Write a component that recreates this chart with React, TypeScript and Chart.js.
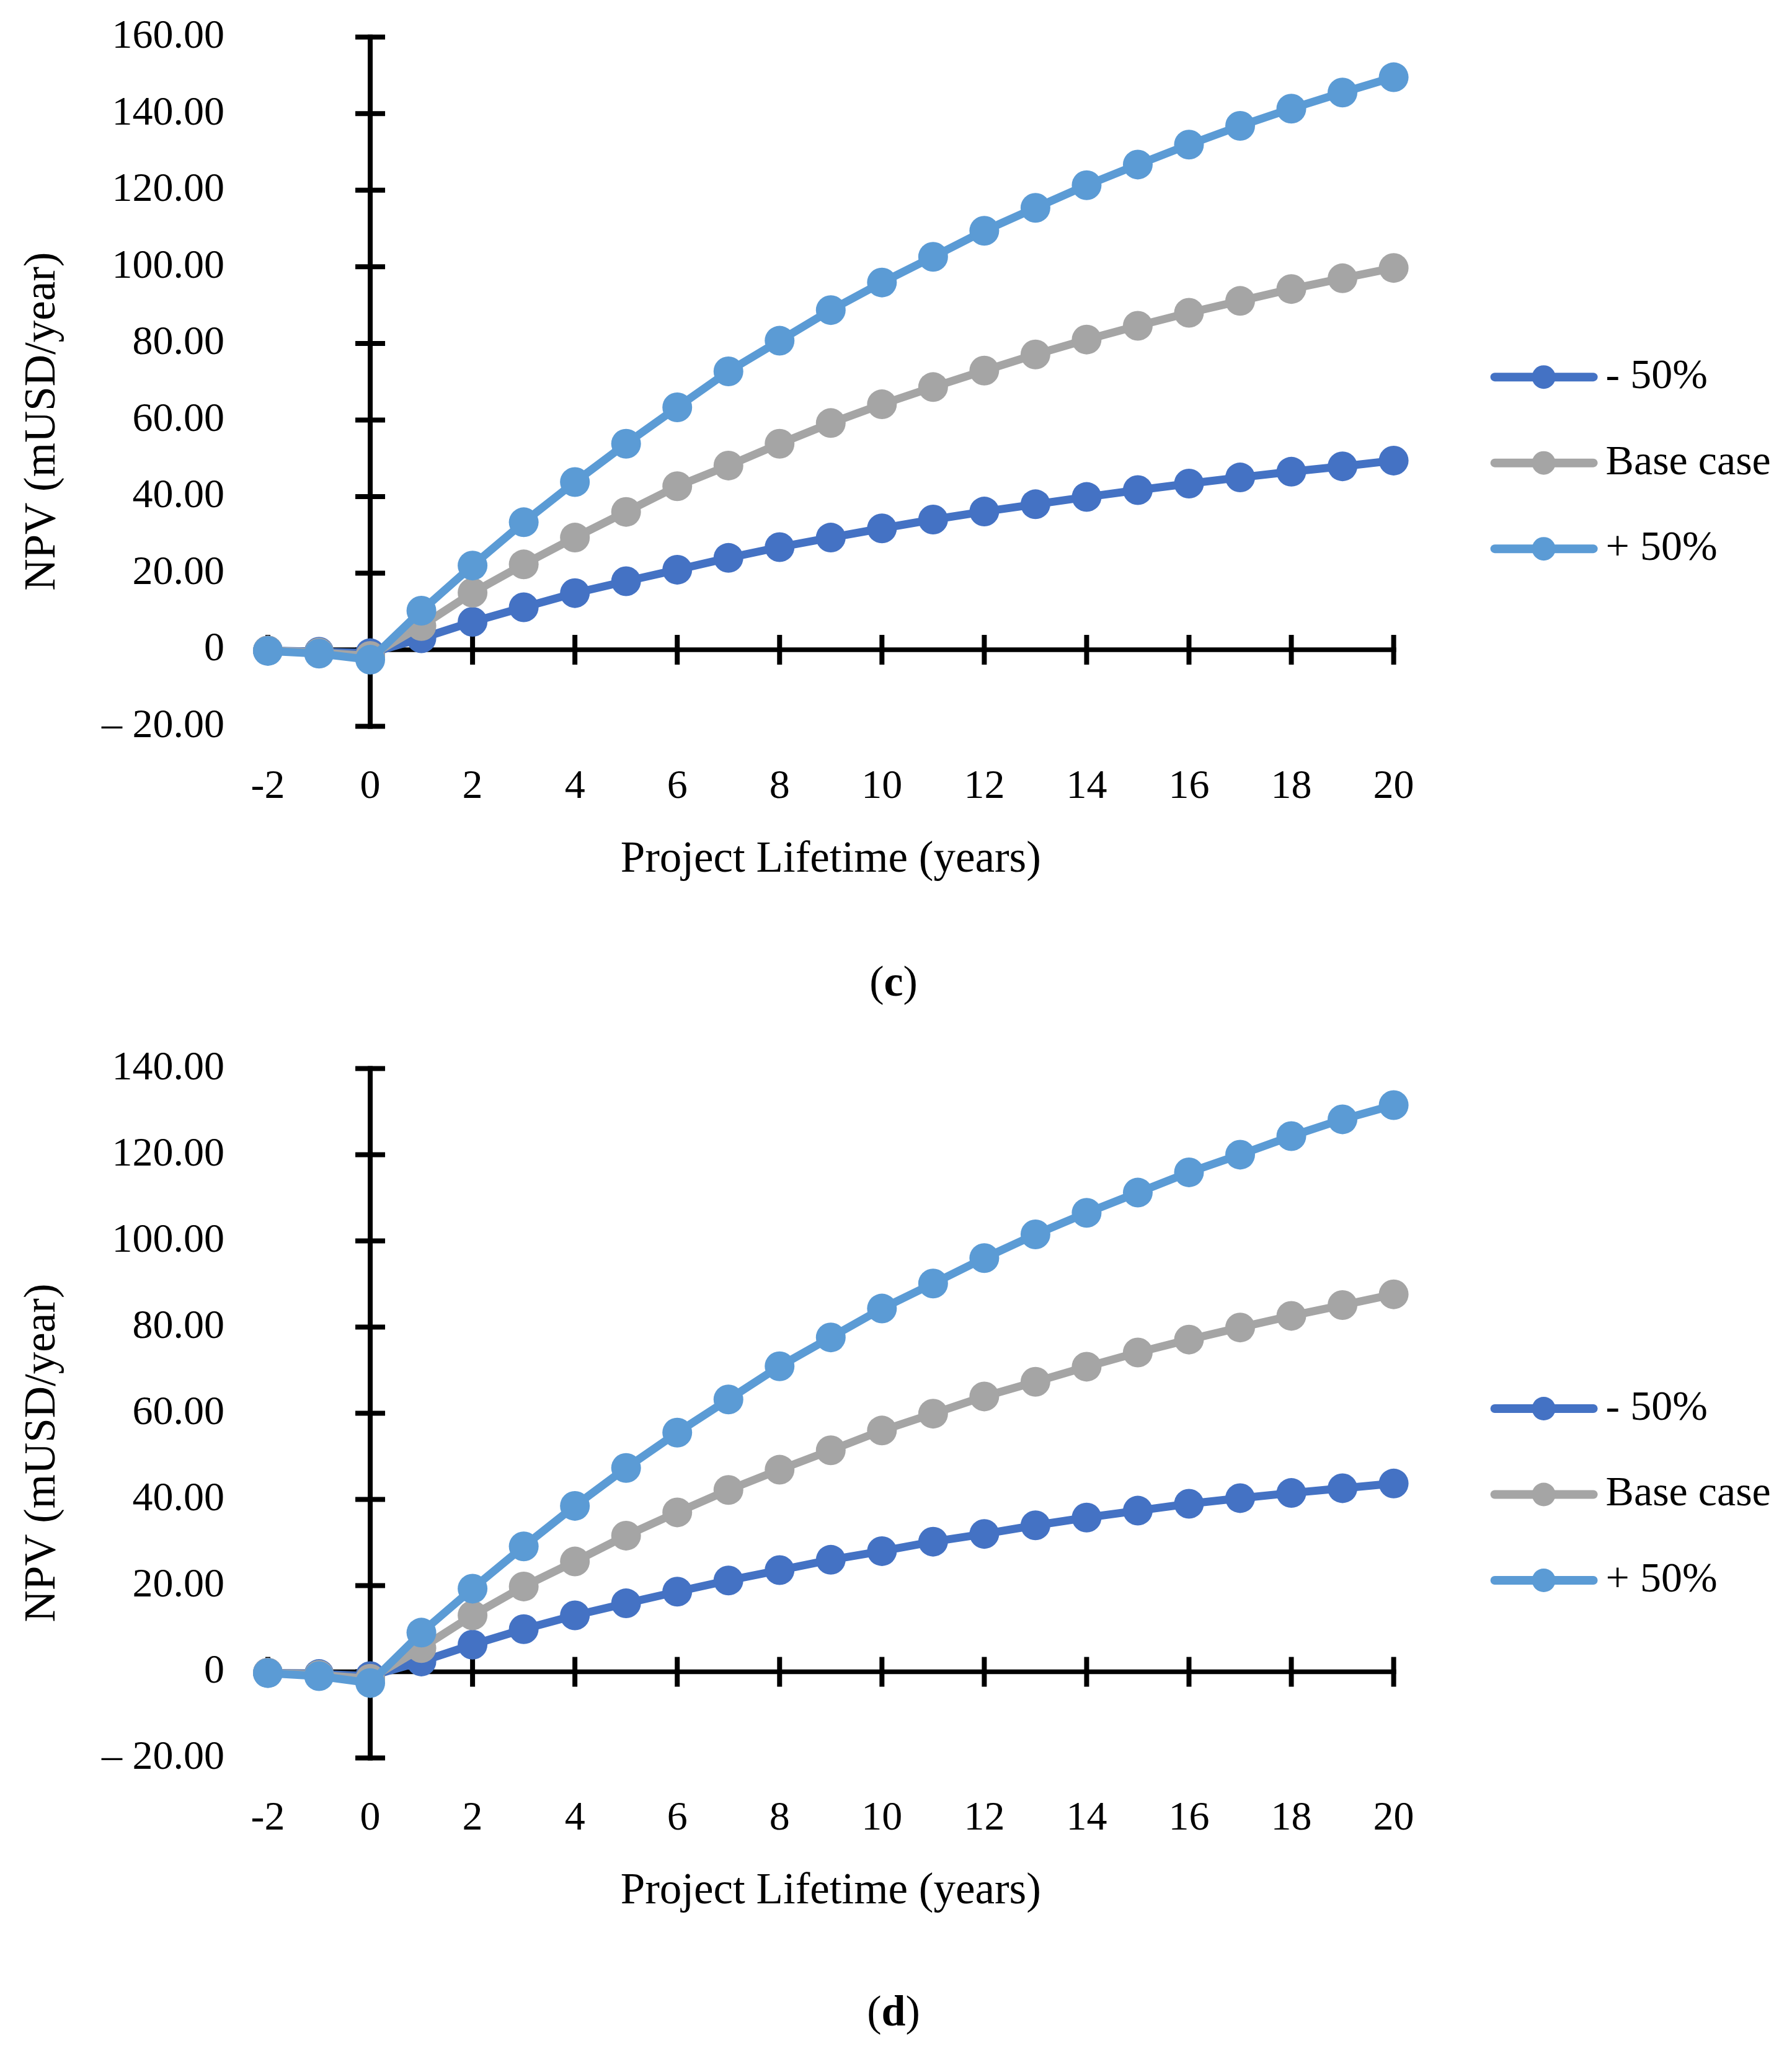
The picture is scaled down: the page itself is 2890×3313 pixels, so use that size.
import React, { useEffect, useRef } from 'react';
import { Chart, registerables } from 'chart.js';

Chart.register(...registerables);

// ---------- data ----------
const years = [-2, -1, 0, 1, 2, 3, 4, 5, 6, 7, 8, 9, 10, 11, 12, 13, 14, 15, 16, 17, 18, 19, 20];
const xTickLabels = ['-2', '0', '2', '4', '6', '8', '10', '12', '14', '16', '18', '20'];
const yTickLabelsC = ['– 20.00', '0', '20.00', '40.00', '60.00', '80.00', '100.00', '120.00', '140.00', '160.00'];
const yTickLabelsD = ['– 20.00', '0', '20.00', '40.00', '60.00', '80.00', '100.00', '120.00', '140.00'];

const seriesNames = ['- 50%', 'Base case', '+ 50%'];
const seriesColors = ['#4472C4', '#A5A5A5', '#5B9BD5'];

const minus50C = [-0.2, -0.5, -0.9, 3.0, 7.3, 11.1, 14.8, 17.9, 20.9, 24.0, 26.8, 29.3, 31.7, 34.0, 36.1, 38.0, 39.9, 41.7, 43.4, 45.0, 46.5, 47.9, 49.4];
const baseC = [-0.2, -0.7, -1.6, 6.2, 14.9, 22.3, 29.3, 36.0, 42.7, 48.1, 53.8, 59.2, 64.1, 68.6, 72.9, 77.1, 81.0, 84.6, 88.0, 91.1, 94.2, 97.0, 99.7];
const plus50C = [-0.3, -1.0, -2.6, 10.2, 22.0, 33.3, 43.8, 53.8, 63.3, 72.7, 80.7, 88.7, 95.9, 102.6, 109.4, 115.4, 121.3, 126.7, 131.9, 136.8, 141.3, 145.5, 149.5];

const minus50D = [-0.2, -0.5, -1.0, 2.4, 6.3, 9.9, 13.1, 15.9, 18.6, 21.2, 23.6, 26.0, 28.0, 30.2, 32.0, 34.0, 35.8, 37.4, 39.0, 40.3, 41.5, 42.6, 43.7];
const baseD = [-0.2, -0.7, -1.6, 5.5, 13.1, 19.8, 25.6, 31.6, 37.0, 42.2, 46.9, 51.4, 56.0, 59.9, 63.9, 67.3, 70.8, 74.1, 77.1, 79.9, 82.6, 85.1, 87.6];
const plus50D = [-0.3, -1.0, -2.6, 9.1, 19.3, 29.1, 38.5, 47.3, 55.5, 63.2, 70.9, 77.6, 84.3, 90.1, 96.0, 101.5, 106.5, 111.2, 115.9, 120.0, 124.3, 128.2, 131.5];

// ---------- layout ----------
const FONT = "'Liberation Serif', 'Times New Roman', serif";
const CANVAS_W = 2890;
const AREA_LEFT = 432;
const AREA_RIGHT = 2247.6;
const X_SCALE_H = 308.4;

const crossAxesPlugin = {
  id: 'crossAxes',
  beforeDatasetsDraw(chart: any) {
    const { ctx, scales } = chart;
    const x = scales.x;
    const y = scales.y;
    const x0 = x.getPixelForValue(0);
    const y0 = y.getPixelForValue(0);
    const half = 4;
    const tick = 24;
    ctx.save();
    ctx.strokeStyle = '#000';
    ctx.lineCap = 'butt';
    ctx.lineWidth = 8;
    const line = (a: number, b: number, c: number, d: number) => {
      ctx.beginPath();
      ctx.moveTo(a, b);
      ctx.lineTo(c, d);
      ctx.stroke();
    };
    // vertical axis at x = 0
    line(x0, y.getPixelForValue(y.max) - half, x0, y.getPixelForValue(y.min) + half);
    y.ticks.forEach((t: any) => {
      const py = y.getPixelForValue(t.value);
      line(x0 - tick, py, x0 + tick, py);
    });
    // horizontal axis at y = 0
    ctx.lineWidth = 7.5;
    line(x.getPixelForValue(x.min), y0, x.getPixelForValue(x.max) + half, y0);
    ctx.lineWidth = 8;
    x.ticks.forEach((t: any) => {
      if (t.value === 0) return;
      const px = x.getPixelForValue(t.value);
      line(px, y0 - tick, px, y0 + tick);
    });
    ctx.restore();
  },
};

const extrasPlugin = {
  id: 'npvExtras',
  afterDraw(chart: any, _args: any, opts: any) {
    const { ctx, chartArea } = chart;
    const midY = (chartArea.top + chartArea.bottom) / 2;
    ctx.save();
    // y-axis title
    ctx.translate(69, midY + 64);
    ctx.rotate(-Math.PI / 2);
    ctx.fillStyle = '#000';
    ctx.font = `71px ${FONT}`;
    ctx.textAlign = 'center';
    ctx.textBaseline = 'middle';
    ctx.fillText(opts.yTitle, 0, 0);
    ctx.restore();

    // legend
    ctx.save();
    const rowGap = 138.5;
    const centerY = midY + 131;
    chart.data.datasets.forEach((ds: any, i: number) => {
      const ry = centerY + (i - 1) * rowGap;
      const lx1 = chartArea.right + 163;
      const lx2 = chartArea.right + 322;
      const mx = chartArea.right + 242;
      ctx.strokeStyle = ds.borderColor;
      ctx.lineWidth = 14;
      ctx.lineCap = 'round';
      ctx.beginPath();
      ctx.moveTo(lx1, ry);
      ctx.lineTo(lx2, ry);
      ctx.stroke();
      ctx.fillStyle = ds.borderColor;
      ctx.beginPath();
      ctx.arc(mx, ry, 19, 0, Math.PI * 2);
      ctx.fill();
      ctx.fillStyle = '#000';
      ctx.font = `68px ${FONT}`;
      ctx.textAlign = 'left';
      ctx.textBaseline = 'middle';
      ctx.fillText(ds.label, chartArea.right + 342, ry);
    });
    ctx.restore();
  },
};

type Props = {
  height: number;
  padTop: number;
  yMax: number;
  yLabels: string[];
  series: number[][];
};

function NpvChart({ height, padTop, yMax, yLabels, series }: Props) {
  const ref = useRef<HTMLCanvasElement | null>(null);

  useEffect(() => {
    if (!ref.current) return;
    const datasets = series.map((vals, i) => ({
      label: seriesNames[i],
      data: years.map((x, j) => ({ x, y: vals[j] })),
      borderColor: seriesColors[i],
      backgroundColor: seriesColors[i],
      pointBackgroundColor: seriesColors[i],
      pointBorderWidth: 0,
      pointRadius: 24,
      pointHoverRadius: 24,
      borderWidth: 13,
      borderJoinStyle: 'round' as const,
      borderCapStyle: 'round' as const,
      tension: 0,
      clip: false as const,
      order: 3 - i,
    }));
    const chart = new Chart(ref.current, {
      type: 'line',
      data: { datasets },
      plugins: [crossAxesPlugin, extrasPlugin],
      options: {
        responsive: false,
        animation: false,
        devicePixelRatio: 1,
        events: [],
        layout: { padding: { top: padTop, right: CANVAS_W - AREA_RIGHT, left: 0, bottom: 0 } },
        plugins: {
          legend: { display: false },
          tooltip: { enabled: false },
          npvExtras: { yTitle: 'NPV (mUSD/year)' },
        } as any,
        scales: {
          x: {
            type: 'linear',
            min: -2,
            max: 20,
            grid: { display: false, drawTicks: false },
            border: { display: false },
            ticks: {
              stepSize: 2,
              padding: 58,
              color: '#000',
              maxRotation: 0,
              autoSkip: false,
              font: { family: FONT, size: 66 },
              callback: (_v: any, i: number) => xTickLabels[i],
            },
            title: {
              display: true,
              text: 'Project Lifetime (years)',
              color: '#000',
              font: { family: FONT, size: 71 },
              padding: { top: 0, bottom: 50 },
            },
            afterFit: (s: any) => {
              s.height = X_SCALE_H;
              s.paddingLeft = 0;
              s.paddingRight = 0;
            },
          },
          y: {
            type: 'linear',
            min: -20,
            max: yMax,
            grid: { display: false, drawTicks: false },
            border: { display: false },
            ticks: {
              stepSize: 20,
              padding: 70,
              color: '#000',
              autoSkip: false,
              font: { family: FONT, size: 66 },
              callback: (_v: any, i: number) => yLabels[i],
            },
            afterFit: (s: any) => {
              s.width = AREA_LEFT;
              s.paddingTop = 0;
              s.paddingBottom = 0;
            },
          },
        },
      },
    });
    return () => chart.destroy();
  }, []);

  return (
    <canvas
      ref={ref}
      width={CANVAS_W}
      height={height}
      style={{ display: 'block', width: CANVAS_W, height }}
    />
  );
}

const captionStyle: React.CSSProperties = {
  position: 'absolute',
  left: 1241,
  width: 400,
  textAlign: 'center',
  fontFamily: FONT,
  fontSize: 70,
  lineHeight: 1,
  color: '#000',
};

export default function App() {
  return (
    <div style={{ position: 'absolute', left: 0, top: 0, width: CANVAS_W, height: 3313, background: '#fff' }}>
      <div style={{ position: 'absolute', left: 0, top: 0 }}>
        <NpvChart height={1480} padTop={59.7} yMax={160} yLabels={yTickLabelsC} series={[minus50C, baseC, plus50C]} />
      </div>
      <div style={{ ...captionStyle, top: 1548 }}>
        (<b>c</b>)
      </div>
      <div style={{ position: 'absolute', left: 0, top: 1640 }}>
        <NpvChart height={1504} padTop={83.4} yMax={140} yLabels={yTickLabelsD} series={[minus50D, baseD, plus50D]} />
      </div>
      <div style={{ ...captionStyle, top: 3209 }}>
        (<b>d</b>)
      </div>
    </div>
  );
}
